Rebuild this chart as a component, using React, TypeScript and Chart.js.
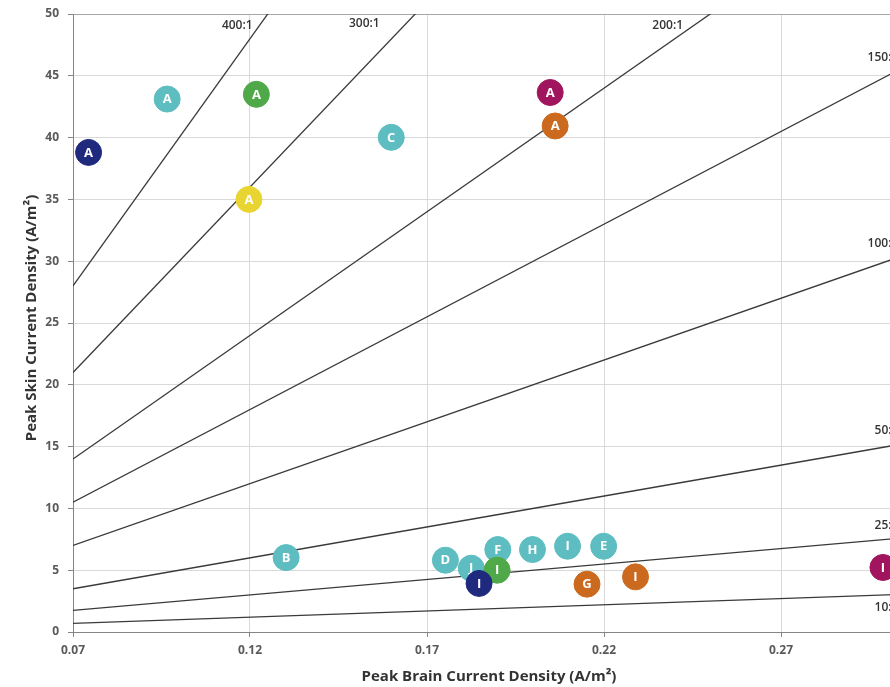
import React, { useEffect, useRef } from "react";
import { Chart, registerables } from "chart.js";
Chart.register(...registerables);

// ---- data ----
const xTicks = [0.07, 0.12, 0.17, 0.22, 0.27, 0.32];
const yTicks = [0, 5, 10, 15, 20, 25, 30, 35, 40, 45, 50];

const ratios = [400, 300, 200, 150, 100, 50, 25, 10];
const ratioLabels = ["400:1", "300:1", "200:1", "150:1", "100:1", "50:1", "25:1", "10:1"];
const ratioLabelX = [0.1164, 0.1523, 0.238, 0.2988, 0.2988, 0.2998, 0.2998, 0.2998];
const ratioLabelY = [49.1, 49.2, 49.1, 46.5, 31.45, 16.3, 8.6, 2.0];
const lineXRange = [0.07, 0.32];

const tealX = [0.0966, 0.1599, 0.1302, 0.1752, 0.1825, 0.19, 0.1998, 0.2097, 0.2199];
const tealY = [43.12, 40.02, 6.02, 5.81, 5.16, 6.67, 6.67, 6.94, 6.94];
const tealL = ["A", "C", "B", "D", "J", "F", "H", "I", "E"];

const greenX = [0.1218, 0.1898];
const greenY = [43.5, 5.0];
const greenL = ["A", "I"];

const orangeX = [0.2062, 0.2152, 0.2289];
const orangeY = [40.94, 3.87, 4.46];
const orangeL = ["A", "G", "I"];

const magentaX = [0.2048, 0.2988];
const magentaY = [43.65, 5.22];
const magentaL = ["A", "I"];

const yellowX = [0.1197];
const yellowY = [35.0];
const yellowL = ["A"];

const navyX = [0.0744, 0.1847];
const navyY = [38.8, 3.93];
const navyL = ["A", "I"];

const xTitle = "Peak Brain Current Density (A/m²)";
const yTitle = "Peak Skin Current Density (A/m²)";

// ---- styles ----
const FONT = "'Open Sans', 'DejaVu Sans', sans-serif";
const groups = [
  { xs: tealX, ys: tealY, ls: tealL, color: "#5dbdc0", order: 5 },
  { xs: greenX, ys: greenY, ls: greenL, color: "#4fa949", order: 4 },
  { xs: orangeX, ys: orangeY, ls: orangeL, color: "#cb6a1f", order: 3 },
  { xs: magentaX, ys: magentaY, ls: magentaL, color: "#a1155f", order: 2 },
  { xs: yellowX, ys: yellowY, ls: yellowL, color: "#e9d531", order: 1 },
  { xs: navyX, ys: navyY, ls: navyL, color: "#1f2a7f", order: 0 },
];

const annotPlugin = {
  id: "annot",
  afterDatasetDraw(chart: any, args: any) {
    const ds = chart.data.datasets[args.index];
    if (!ds.letters) return;
    const ctx = chart.ctx;
    ctx.save();
    ctx.fillStyle = "#ffffff";
    ctx.font = `bold 13px ${FONT}`;
    ctx.textAlign = "center";
    ctx.textBaseline = "middle";
    args.meta.data.forEach((el: any, i: number) => {
      ctx.fillText(ds.letters[i], el.x, el.y + 0.5);
    });
    ctx.restore();
  },
  afterDraw(chart: any) {
    const ctx = chart.ctx;
    const xs = chart.scales.x;
    const ys = chart.scales.y;
    ctx.save();
    ctx.fillStyle = "#333333";
    ctx.font = `600 12px ${FONT}`;
    ctx.textAlign = "center";
    ctx.textBaseline = "middle";
    ratioLabels.forEach((t, i) => {
      ctx.fillText(t, xs.getPixelForValue(ratioLabelX[i]), ys.getPixelForValue(ratioLabelY[i]));
    });
    ctx.fillStyle = "#333333";
    ctx.font = `bold 15px ${FONT}`;
    ctx.fillText(xTitle, 489, 677);
    ctx.translate(32, 318);
    ctx.rotate(-Math.PI / 2);
    ctx.fillText(yTitle, 0, 0);
    ctx.restore();
  },
};

export default function App() {
  const ref = useRef<HTMLCanvasElement>(null);
  useEffect(() => {
    if (!ref.current) return;
    const lineSets = ratios.map((r) => ({
      type: "line" as const,
      data: lineXRange.map((x) => ({ x, y: r * x })),
      borderColor: "#3a3a3a",
      borderWidth: 1.3,
      pointRadius: 0,
      showLine: true,
      fill: false,
      order: 10,
    }));
    const pointSets = groups.map((g) => ({
      type: "scatter" as const,
      data: g.xs.map((x, i) => ({ x, y: g.ys[i] })),
      letters: g.ls,
      backgroundColor: g.color,
      borderColor: g.color,
      borderWidth: 1,
      pointRadius: 13,
      pointHoverRadius: 13,
      order: g.order,
    }));
    const chart = new Chart(ref.current, {
      type: "scatter",
      data: { datasets: [...lineSets, ...pointSets] as any },
      options: {
        responsive: false,
        animation: false,
        devicePixelRatio: 1,
        layout: { padding: { top: 12, right: 15, left: 0, bottom: 0 } },
        plugins: { legend: { display: false }, tooltip: { enabled: false } },
        scales: {
          x: {
            type: "linear",
            min: 0.07,
            max: 0.32,
            afterBuildTicks: (s: any) => {
              s.ticks = xTicks.map((v) => ({ value: v }));
            },
            afterFit: (s: any) => {
              s.height = 55;
              s.paddingLeft = 0;
              s.paddingRight = 0;
            },
            ticks: {
              color: "#595959",
              font: { family: FONT, size: 12, weight: "bold" },
              padding: 6,
              maxRotation: 0,
              callback: (v: any) => Number(v).toFixed(2),
            },
            grid: { color: "#d9d9d9", tickColor: "#868686", tickLength: 5, lineWidth: 1 },
            border: { color: "#868686", width: 1 },
          },
          y: {
            type: "linear",
            min: 0,
            max: 50,
            afterBuildTicks: (s: any) => {
              s.ticks = yTicks.map((v) => ({ value: v }));
            },
            afterFit: (s: any) => {
              s.width = 73;
              s.paddingTop = 0;
              s.paddingBottom = 0;
            },
            ticks: {
              color: "#595959",
              font: { family: FONT, size: 12, weight: "bold" },
              padding: 9,
            },
            grid: {
              color: (c: any) => (c.tick && c.tick.value === 50 ? "#a6a6a6" : "#d9d9d9"),
              tickColor: "#868686",
              tickLength: 5,
            },
            border: { color: "#868686", width: 1 },
          },
        },
      },
      plugins: [annotPlugin],
    });
    return () => chart.destroy();
  }, []);
  return (
    <div
      style={{
        position: "absolute",
        left: 0,
        top: 0,
        width: 890,
        height: 687,
        overflow: "hidden",
        background: "#ffffff",
      }}
    >
      <canvas ref={ref} width={973} height={687} style={{ width: 973, height: 687, display: "block" }} />
    </div>
  );
}
